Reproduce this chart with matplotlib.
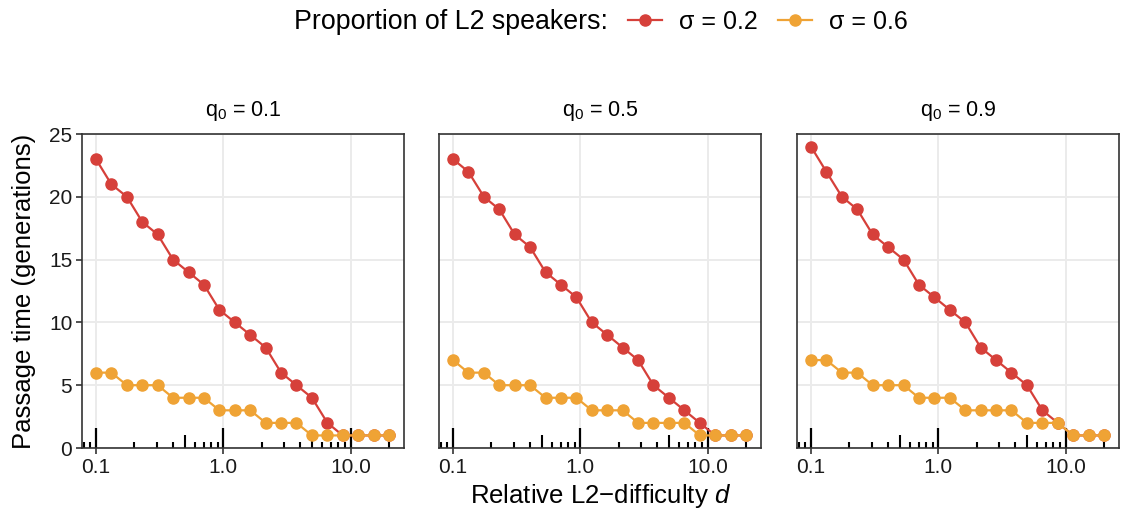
import matplotlib
matplotlib.use("Agg")
import matplotlib.pyplot as plt

plt.rcParams['font.family'] = ['Liberation Sans', 'DejaVu Sans']
plt.rcParams['mathtext.fontset'] = 'custom'
plt.rcParams['mathtext.rm'] = 'Liberation Sans'
plt.rcParams['mathtext.it'] = 'Liberation Sans:italic'

# relative L2-difficulty d (log-spaced grid)
d = [0.1, 0.132, 0.175, 0.231, 0.305, 0.403, 0.533, 0.704, 0.931, 1.23,
     1.63, 2.15, 2.84, 3.75, 4.96, 6.56, 8.66, 11.45, 15.13, 20.0]

panels = ["0.1", "0.5", "0.9"]

# passage time for sigma = 0.2
low_sigma = [
    [23, 21, 20, 18, 17, 15, 14, 13, 11, 10, 9, 8, 6, 5, 4, 2, 1, 1, 1, 1],
    [23, 22, 20, 19, 17, 16, 14, 13, 12, 10, 9, 8, 7, 5, 4, 3, 2, 1, 1, 1],
    [24, 22, 20, 19, 17, 16, 15, 13, 12, 11, 10, 8, 7, 6, 5, 3, 2, 1, 1, 1],
]
# passage time for sigma = 0.6
high_sigma = [
    [6, 6, 5, 5, 5, 4, 4, 4, 3, 3, 3, 2, 2, 2, 1, 1, 1, 1, 1, 1],
    [7, 6, 6, 5, 5, 5, 4, 4, 4, 3, 3, 3, 2, 2, 2, 2, 1, 1, 1, 1],
    [7, 7, 6, 6, 5, 5, 5, 4, 4, 4, 3, 3, 3, 3, 2, 2, 2, 1, 1, 1],
]

# log tick marks drawn inside the panels (like annotation_logticks)
ticks_long = [0.1, 1, 10]
ticks_mid = [0.5, 5]
ticks_short = [0.08, 0.09, 0.2, 0.3, 0.4, 0.6, 0.7, 0.8, 0.9,
               2, 3, 4, 6, 7, 8, 9, 20]

red = '#d6403a'
orange = '#efa335'
border = '#333333'

fig = plt.figure(figsize=(11.22, 5.12), dpi=100)
lefts = [82 / 1122, 439 / 1122, 797 / 1122]
w = 322 / 1122
bottom = 1 - 448 / 512
h = (448 - 134) / 512

for i, q in enumerate(panels):
    ax = fig.add_axes([lefts[i], bottom, w, h])
    ax.set_xscale('log')
    ax.set_xlim(0.0777, 26.2)
    ax.set_ylim(0, 25)
    ax.grid(True, color='#ebebeb', lw=1.4)
    ax.set_axisbelow(True)

    ax.plot(d, low_sigma[i], '-o', color=red, lw=1.6, ms=8, label='σ = 0.2', zorder=3)
    ax.plot(d, high_sigma[i], '-o', color=orange, lw=1.6, ms=8, label='σ = 0.6', zorder=4)

    tr = ax.get_xaxis_transform()
    ax.vlines(ticks_long, 0, 0.064, transform=tr, color='black', lw=1.6, zorder=2)
    ax.vlines(ticks_mid, 0, 0.042, transform=tr, color='black', lw=1.5, zorder=2)
    ax.vlines(ticks_short, 0, 0.02, transform=tr, color='black', lw=1.5, zorder=2)

    ax.set_xticks([0.1, 1, 10])
    ax.set_xticklabels(['0.1', '1.0', '10.0'])
    ax.xaxis.set_minor_locator(matplotlib.ticker.NullLocator())
    ax.set_yticks([0, 5, 10, 15, 20, 25])
    ax.tick_params(axis='both', labelsize=15, color=border, length=4, width=1.2,
                   labelcolor='#1a1a1a', pad=3)
    if i > 0:
        ax.tick_params(axis='y', left=False, labelleft=False)
    for s in ax.spines.values():
        s.set_color(border)
        s.set_linewidth(1.2)
    ax.set_title(r'q$_0$ = ' + q, fontsize=15.5, pad=13)

fig.text(24 / 1122, bottom + h / 2, 'Passage time (generations)', rotation=90,
         ha='center', va='center', fontsize=18.5)
fig.text(601 / 1122, 1 - 496 / 512, 'Relative L2\u2212difficulty $d$',
         ha='center', va='center', fontsize=18.5)

fig.text(608 / 1122, 1 - 22 / 512, 'Proportion of L2 speakers:',
         ha='right', va='center', fontsize=19.3)
handles, labels = ax.get_legend_handles_labels()
fig.legend(handles, labels, loc='center left', bbox_to_anchor=(628 / 1122, 1 - 22 / 512),
           ncol=2, frameon=False, fontsize=18, handlelength=1.35, handletextpad=0.7,
           columnspacing=0.8, borderaxespad=0, borderpad=0)

fig.savefig('out.png', dpi=100)
